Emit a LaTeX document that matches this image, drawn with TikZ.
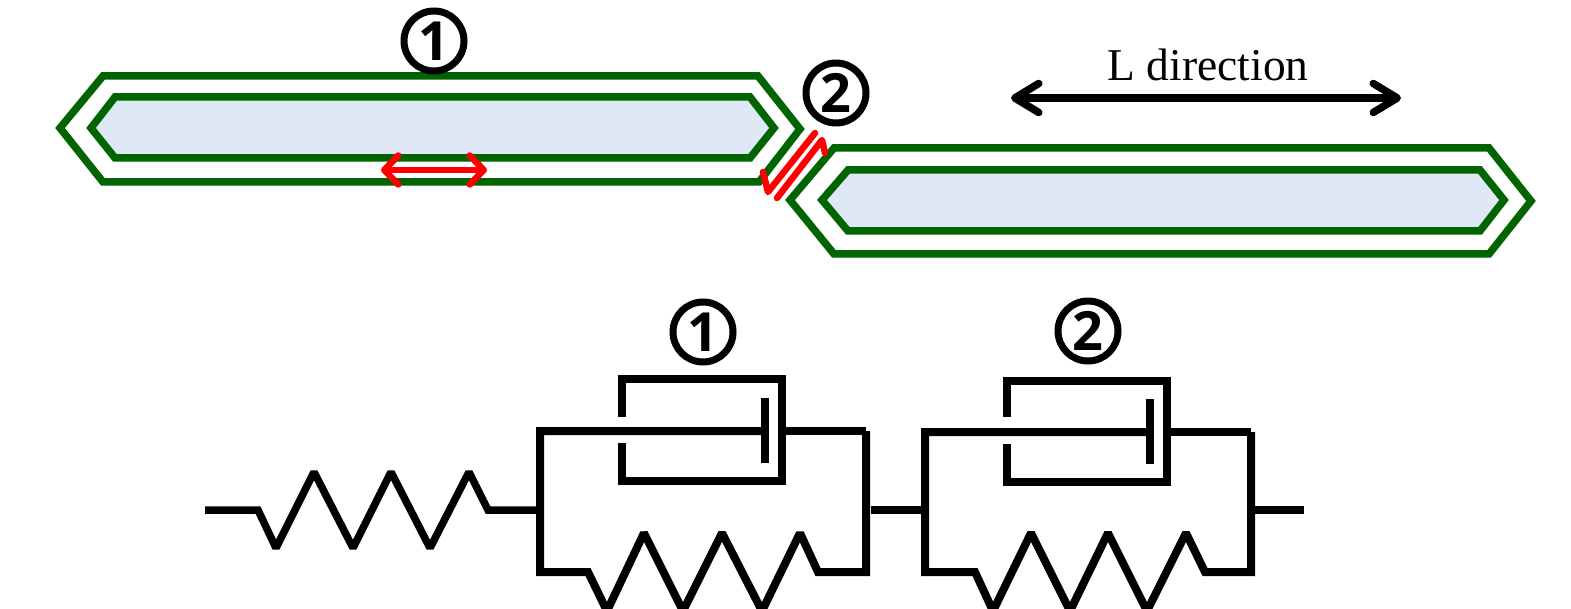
\documentclass[tikz,border=0pt]{standalone}
\usepackage{fontspec}
\setmainfont{Liberation Serif}
\newfontfamily\digitfont{Open Sans}
\usetikzlibrary{arrows.meta}
\definecolor{shellgreen}{HTML}{006400}
\definecolor{corefill}{HTML}{DEE9F5}
\definecolor{markred}{HTML}{FF0000}
\tikzset{
  shell/.style={draw=shellgreen,line width=7.5pt,miter limit=10,line join=miter},
  core/.style={shell,fill=corefill},
  wire/.style={draw=black,line width=8pt,line join=miter,miter limit=2},
  wirethin/.style={draw=black,line width=7.5pt,line join=miter,miter limit=2},
  numcircle/.style={circle,draw=black,line width=7pt,minimum size=60pt,inner sep=0pt,
    font=\digitfont\bfseries\fontsize{54}{54}\selectfont},
  redmark/.style={draw=markred,line width=6.5pt,line cap=round,line join=round},
  bigarrow/.style={draw=black,line width=7.5pt,
    {Straight Barb[length=24pt,width=29pt,round]}-{Straight Barb[length=24pt,width=29pt,round]}},
  redarrow/.style={draw=markred,line width=6.5pt,
    {Straight Barb[length=14pt,width=29pt,round]}-{Straight Barb[length=14pt,width=29pt,round]}},
}
\begin{document}
\begin{tikzpicture}[x=1pt,y=-1pt]
\useasboundingbox (0,0) rectangle (1571,609);
\clip (0,0) rectangle (1571,609);
% --- top: two overlapping strands
\draw[shell] (60,128) -- (103,76) -- (758,76) -- (800,129) -- (759,182) -- (103,182) -- cycle;
\draw[core] (91,128) -- (115,97) -- (750,97) -- (774,128) -- (750,158) -- (115,158) -- cycle;
\draw[shell] (790,200) -- (834,148) -- (1489,148) -- (1531,201) -- (1489,254) -- (834,254) -- cycle;
\draw[core] (822,200) -- (848,170) -- (1480,170) -- (1504,200) -- (1480,231) -- (848,231) -- cycle;
% --- red markers
\coordinate (ra) at (381,170);
\coordinate (rb) at (487,170);
\draw[redarrow] (ra) -- (rb);
\draw[redmark] (763,172) -- (768,192) -- (815,133);
\draw[redmark] (777,198) -- (822,140) -- (825,153);
% --- labels
\node[numcircle] (topone) at (434,41) {1};
\node[numcircle] (toptwo) at (836,93) {2};
\node[font=\fontsize{45.5}{50}\selectfont] (ldir) at (1208,65) {L direction};
\coordinate (la) at (1011,98);
\coordinate (lb) at (1401,98);
\draw[bigarrow] (la) -- (lb);
% --- lower: series spring
\draw[wirethin] (205,510) -- (258,510) -- (276,548) -- (314,472) -- (353,548) -- (391,472)
  -- (430,548) -- (469,472) -- (488,510) -- (540,510);
% --- Kelvin element 1
\draw[wire] (866,431) -- (782,431);
\draw[wire] (765,431) -- (540,431) -- (540,572) -- (588,572) -- (607,611) -- (644,533) -- (683,611)
  -- (722,533) -- (762,611) -- (800,533) -- (818,572) -- (866,572) -- (866,431);
\draw[wire] (622,417) -- (622,379) -- (782,379) -- (782,481) -- (622,481) -- (622,443);
\draw[wire] (765,398) -- (765,463);
\node[numcircle] (lowone) at (703,332) {1};
% --- link
\draw[wirethin] (871,510) -- (925,510);
% --- Kelvin element 2
\draw[wire] (1251,432) -- (1167,432);
\draw[wire] (1150,432) -- (925,432) -- (925,572) -- (975,572) -- (993,611) -- (1031,533) -- (1070,611)
  -- (1108,533) -- (1147,611) -- (1186,533) -- (1205,572) -- (1251,572) -- (1251,432);
\draw[wire] (1007,417) -- (1007,381) -- (1167,381) -- (1167,482) -- (1007,482) -- (1007,444);
\draw[wire] (1150,399) -- (1150,464);
\node[numcircle] (lowtwo) at (1088,331) {2};
\draw[wirethin] (1253,510) -- (1304,510);
\end{tikzpicture}
\end{document}
